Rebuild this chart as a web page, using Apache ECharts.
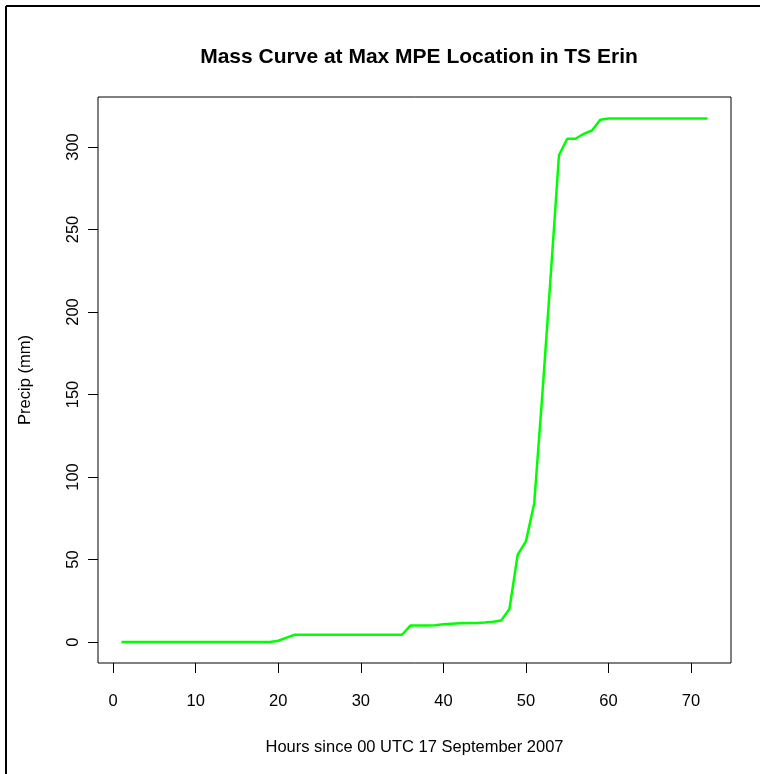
<!DOCTYPE html>
<html>
<head>
<meta charset="utf-8">
<script src="https://cdn.jsdelivr.net/npm/echarts@6/dist/echarts.min.js"></script>
<style>
  html, body { margin: 0; padding: 0; background: #fff; }
  #chart { width: 770px; height: 774px; }
</style>
</head>
<body>
<div id="chart"></div>
<script>
// hours since 00 UTC 17 Sep 2007
var hours = [];
for (var h = 1; h <= 72; h++) hours.push(h);

// accumulated precip (mm)
var precip = [
  0, 0, 0, 0, 0, 0, 0, 0, 0, 0,
  0, 0, 0, 0, 0, 0, 0, 0, 0, 0.8,
  2.7, 4.4, 4.4, 4.4, 4.4, 4.4, 4.4, 4.4, 4.4, 4.4,
  4.4, 4.4, 4.4, 4.4, 4.4, 10, 10, 10, 10.2, 10.8,
  11.1, 11.4, 11.5, 11.6, 11.8, 12.3, 13, 20, 53, 61,
  84, 151, 222, 295, 305, 305, 308, 310, 316.5, 317.3,
  317.3, 317.3, 317.3, 317.3, 317.3, 317.3, 317.3, 317.3, 317.3, 317.3,
  317.3, 317.3
];

var xTicks = [0, 10, 20, 30, 40, 50, 60, 70];
var yTicks = [0, 50, 100, 150, 200, 250, 300];

var pts = hours.map(function (h, i) { return [h, precip[i]]; });

var font = 'Liberation Sans, Arial, sans-serif';
var chart = echarts.init(document.getElementById('chart'));

chart.setOption({
  animation: false,
  backgroundColor: '#fff',
  title: {
    text: 'Mass Curve at Max MPE Location in TS Erin',
    left: 414, top: 42, textAlign: 'center',
    textStyle: { fontFamily: font, fontWeight: 'bold', fontSize: 21, color: '#000' }
  },
  grid: {
    left: 98, right: 39, top: 97, bottom: 111,
    show: true, borderColor: '#000', borderWidth: 1, backgroundColor: 'transparent'
  },
  xAxis: {
    type: 'value',
    min: -1.84, max: 74.84,
    name: 'Hours since 00 UTC 17 September 2007',
    nameLocation: 'middle', nameGap: 76,
    nameTextStyle: { fontFamily: font, fontSize: 16.5, color: '#000' },
    axisLine: { show: false, onZero: false },
    splitLine: { show: false },
    axisTick: { show: true, inside: false, length: 10, customValues: xTicks,
      lineStyle: { color: '#000' } },
    axisLabel: { customValues: xTicks, margin: 30,
      fontFamily: font, fontSize: 16.5, color: '#000' }
  },
  yAxis: {
    type: 'value',
    min: -12.7, max: 330.3,
    name: 'Precip (mm)',
    nameLocation: 'middle', nameGap: 64, nameRotate: 90,
    nameTextStyle: { fontFamily: font, fontSize: 16.5, color: '#000' },
    axisLine: { show: false, onZero: false },
    splitLine: { show: false },
    axisTick: { show: true, inside: false, length: 10, customValues: yTicks,
      lineStyle: { color: '#000' } },
    axisLabel: { customValues: yTicks, rotate: 90, margin: 16,
      fontFamily: font, fontSize: 16.5, color: '#000' }
  },
  graphic: [
    { type: 'line', shape: { x1: 6, y1: 6, x2: 760, y2: 6 },
      style: { stroke: '#000', lineWidth: 2 } },
    { type: 'line', shape: { x1: 6, y1: 6, x2: 6, y2: 774 },
      style: { stroke: '#000', lineWidth: 2 } }
  ],
  series: [{
    type: 'line',
    data: pts,
    showSymbol: false,
    lineStyle: { color: '#00ff00', width: 2.5 }
  }]
});
</script>
</body>
</html>
